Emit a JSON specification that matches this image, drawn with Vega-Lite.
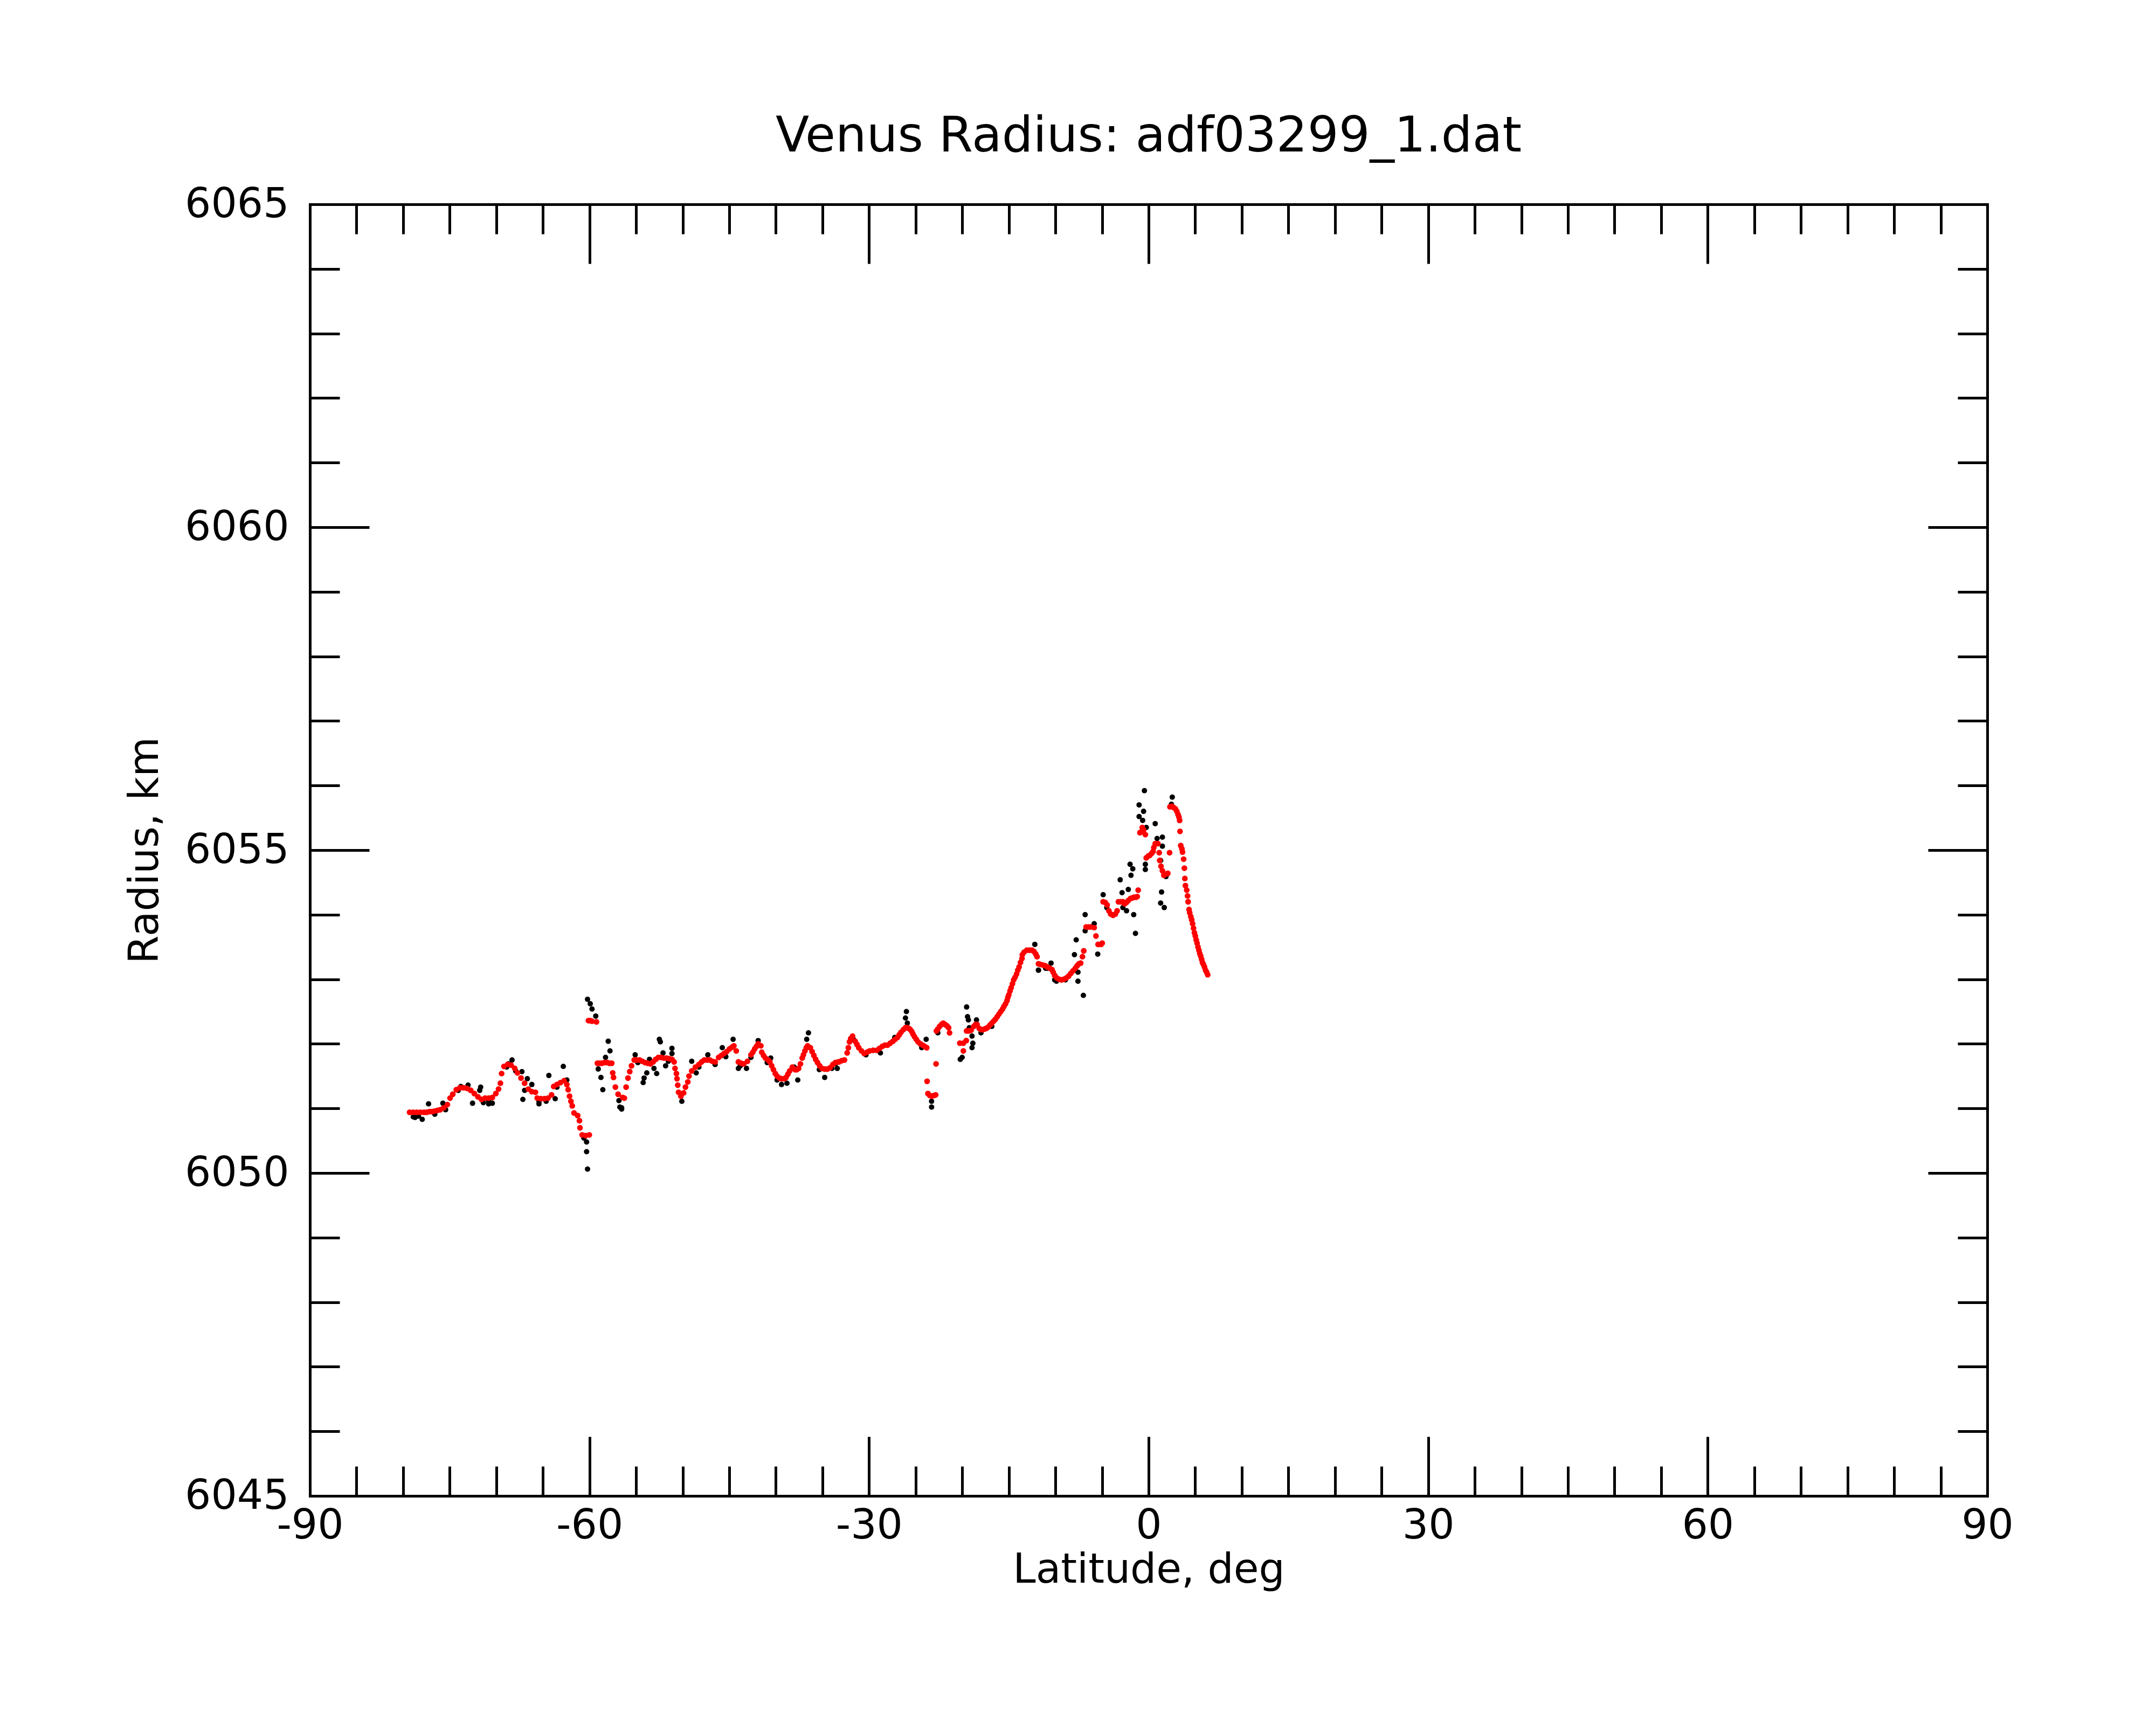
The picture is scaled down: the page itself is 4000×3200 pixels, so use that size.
{
  "$schema": "https://vega.github.io/schema/vega-lite/v6.json",
  "width": 3112,
  "height": 2396,
  "autosize": {"type": "none"},
  "padding": {"left": 575, "top": 379, "right": 313, "bottom": 425},
  "background": "white",
  "config": {"view": {"stroke": null}, "font": "DejaVu Sans"},
  "title": {
    "text": "Venus Radius: adf03299_1.dat",
    "font": "DejaVu Sans",
    "fontSize": 91,
    "fontWeight": "normal",
    "color": "#000000",
    "anchor": "middle",
    "baseline": "alphabetic",
    "offset": -31
  },
  "datasets": {
    "black": [
      {"lat": -78.72, "r": 6050.86}, {"lat": -77.95, "r": 6050.83}, {"lat": -77.27, "r": 6051.07},
      {"lat": -75.73, "r": 6051.08}, {"lat": -75.44, "r": 6050.98}, {"lat": -73.81, "r": 6051.34},
      {"lat": -73.03, "r": 6051.36}, {"lat": -72.55, "r": 6051.08}, {"lat": -71.68, "r": 6051.33},
      {"lat": -71.78, "r": 6051.28}, {"lat": -70.82, "r": 6051.07}, {"lat": -70.43, "r": 6051.08},
      {"lat": -68.70, "r": 6051.69}, {"lat": -68.31, "r": 6051.75}, {"lat": -67.25, "r": 6051.57},
      {"lat": -67.15, "r": 6051.14}, {"lat": -66.67, "r": 6051.46}, {"lat": -66.19, "r": 6051.37},
      {"lat": -66.96, "r": 6051.28}, {"lat": -65.42, "r": 6051.07}, {"lat": -64.36, "r": 6051.51},
      {"lat": -63.68, "r": 6051.15}, {"lat": -62.81, "r": 6051.65}, {"lat": -62.43, "r": 6051.44},
      {"lat": -60.21, "r": 6052.69}, {"lat": -59.92, "r": 6052.62}, {"lat": -59.73, "r": 6052.54},
      {"lat": -59.33, "r": 6052.43}, {"lat": -57.99, "r": 6052.04}, {"lat": -57.80, "r": 6051.89},
      {"lat": -58.28, "r": 6051.79}, {"lat": -59.06, "r": 6051.61}, {"lat": -58.77, "r": 6051.48},
      {"lat": -58.57, "r": 6051.29}, {"lat": -60.31, "r": 6050.48}, {"lat": -60.31, "r": 6050.33},
      {"lat": -60.21, "r": 6050.06}, {"lat": -56.55, "r": 6051.01}, {"lat": -56.84, "r": 6051.12},
      {"lat": -78.91, "r": 6050.87}, {"lat": -78.35, "r": 6050.88}, {"lat": -76.60, "r": 6050.91},
      {"lat": -74.09, "r": 6051.28}, {"lat": -71.39, "r": 6051.09}, {"lat": -70.82, "r": 6051.11},
      {"lat": -68.89, "r": 6051.64}, {"lat": -67.92, "r": 6051.58}, {"lat": -65.42, "r": 6051.11},
      {"lat": -64.65, "r": 6051.11}, {"lat": -63.49, "r": 6051.33}, {"lat": -60.60, "r": 6050.54},
      {"lat": -52.50, "r": 6052.07}, {"lat": -52.40, "r": 6052.03}, {"lat": -51.15, "r": 6051.93},
      {"lat": -51.15, "r": 6051.85}, {"lat": -52.11, "r": 6051.86}, {"lat": -51.83, "r": 6051.66},
      {"lat": -52.79, "r": 6051.54}, {"lat": -53.08, "r": 6051.62}, {"lat": -54.24, "r": 6051.40},
      {"lat": -54.14, "r": 6051.47}, {"lat": -53.85, "r": 6051.55}, {"lat": -53.56, "r": 6051.76},
      {"lat": -55.10, "r": 6051.83}, {"lat": -56.74, "r": 6051.02}, {"lat": -56.55, "r": 6050.99},
      {"lat": -50.09, "r": 6051.11}, {"lat": -49.03, "r": 6051.73}, {"lat": -48.55, "r": 6051.55},
      {"lat": -47.30, "r": 6051.83}, {"lat": -45.75, "r": 6051.94}, {"lat": -45.37, "r": 6051.80},
      {"lat": -44.59, "r": 6052.07}, {"lat": -44.02, "r": 6051.62}, {"lat": -43.15, "r": 6051.62},
      {"lat": -41.90, "r": 6052.05}, {"lat": -40.55, "r": 6051.78}, {"lat": -39.39, "r": 6051.37},
      {"lat": -38.81, "r": 6051.39}, {"lat": -37.65, "r": 6051.44}, {"lat": -36.50, "r": 6052.17},
      {"lat": -36.69, "r": 6052.07}, {"lat": -34.76, "r": 6051.48}, {"lat": -38.04, "r": 6051.64},
      {"lat": -54.81, "r": 6051.71}, {"lat": -51.54, "r": 6051.73}, {"lat": -48.26, "r": 6051.64},
      {"lat": -46.52, "r": 6051.68}, {"lat": -43.82, "r": 6051.66}, {"lat": -42.67, "r": 6051.79},
      {"lat": -40.93, "r": 6051.71}, {"lat": -39.87, "r": 6051.44}, {"lat": -35.34, "r": 6051.60},
      {"lat": -33.99, "r": 6051.62},
      {"lat": -25.99, "r": 6052.50}, {"lat": -26.09, "r": 6052.40}, {"lat": -25.89, "r": 6052.32},
      {"lat": -23.87, "r": 6052.07}, {"lat": -24.35, "r": 6051.94}, {"lat": -23.29, "r": 6051.11},
      {"lat": -23.29, "r": 6051.02}, {"lat": -19.53, "r": 6052.57}, {"lat": -19.43, "r": 6052.42},
      {"lat": -19.34, "r": 6052.37}, {"lat": -18.47, "r": 6052.37}, {"lat": -19.24, "r": 6052.25},
      {"lat": -18.95, "r": 6052.12}, {"lat": -18.86, "r": 6052.01}, {"lat": -18.95, "r": 6051.94},
      {"lat": -20.01, "r": 6051.79}, {"lat": -20.21, "r": 6051.76}, {"lat": -33.61, "r": 6051.69},
      {"lat": -33.41, "r": 6051.62}, {"lat": -30.33, "r": 6051.83}, {"lat": -28.78, "r": 6051.86},
      {"lat": -27.24, "r": 6052.10}, {"lat": -11.82, "r": 6053.14}, {"lat": -10.86, "r": 6053.17},
      {"lat": -10.08, "r": 6052.99}, {"lat": -31.68, "r": 6052.07}, {"lat": -22.62, "r": 6052.17},
      {"lat": -17.99, "r": 6052.17}, {"lat": -16.83, "r": 6052.27},
      {"lat": -12.21, "r": 6053.54}, {"lat": -11.82, "r": 6053.14}, {"lat": -7.77, "r": 6053.61},
      {"lat": -7.96, "r": 6053.38}, {"lat": -7.58, "r": 6052.97}, {"lat": -7.00, "r": 6052.75},
      {"lat": -6.81, "r": 6054.00}, {"lat": -5.84, "r": 6053.86}, {"lat": -5.46, "r": 6053.39},
      {"lat": -4.88, "r": 6054.31}, {"lat": -3.05, "r": 6054.54}, {"lat": -2.85, "r": 6054.34},
      {"lat": -2.18, "r": 6054.39}, {"lat": -2.37, "r": 6054.06}, {"lat": -1.89, "r": 6054.61},
      {"lat": -1.99, "r": 6054.78}, {"lat": -1.70, "r": 6054.71}, {"lat": -1.60, "r": 6054.00},
      {"lat": -1.41, "r": 6053.71}, {"lat": -1.02, "r": 6055.70}, {"lat": -0.54, "r": 6055.60},
      {"lat": -1.02, "r": 6055.52}, {"lat": -0.64, "r": 6055.46}, {"lat": -0.45, "r": 6055.92},
      {"lat": -0.25, "r": 6055.35}, {"lat": -0.35, "r": 6054.78}, {"lat": -0.35, "r": 6054.70},
      {"lat": 0.71, "r": 6055.41}, {"lat": 0.91, "r": 6055.18}, {"lat": 1.48, "r": 6055.20},
      {"lat": 1.48, "r": 6055.06}, {"lat": 1.29, "r": 6054.84}, {"lat": 1.39, "r": 6054.35},
      {"lat": 1.29, "r": 6054.18}, {"lat": 1.68, "r": 6054.11}, {"lat": 2.54, "r": 6055.82},
      {"lat": 2.45, "r": 6055.71}, {"lat": -11.05, "r": 6053.17}, {"lat": -10.47, "r": 6053.25},
      {"lat": -9.89, "r": 6052.97}, {"lat": -8.93, "r": 6052.99}, {"lat": -7.58, "r": 6053.11},
      {"lat": -6.81, "r": 6053.75}, {"lat": -4.49, "r": 6054.11}, {"lat": -2.76, "r": 6054.11},
      {"lat": 1.87, "r": 6054.59}
    ],
    "red": [
      {"lat": -79.30, "r": 6050.94}, {"lat": -78.91, "r": 6050.94}, {"lat": -78.53, "r": 6050.94},
      {"lat": -78.14, "r": 6050.94}, {"lat": -77.76, "r": 6050.94}, {"lat": -77.47, "r": 6050.94},
      {"lat": -77.18, "r": 6050.95}, {"lat": -76.89, "r": 6050.95}, {"lat": -76.60, "r": 6050.96},
      {"lat": -76.31, "r": 6050.97}, {"lat": -76.02, "r": 6050.98}, {"lat": -75.64, "r": 6051.01},
      {"lat": -75.25, "r": 6051.06}, {"lat": -74.96, "r": 6051.16}, {"lat": -74.67, "r": 6051.22},
      {"lat": -74.29, "r": 6051.29}, {"lat": -73.90, "r": 6051.32}, {"lat": -73.52, "r": 6051.32},
      {"lat": -73.13, "r": 6051.31}, {"lat": -72.74, "r": 6051.28}, {"lat": -72.36, "r": 6051.23},
      {"lat": -71.97, "r": 6051.18}, {"lat": -71.59, "r": 6051.14}, {"lat": -71.20, "r": 6051.16},
      {"lat": -70.82, "r": 6051.16}, {"lat": -70.43, "r": 6051.17}, {"lat": -70.05, "r": 6051.23},
      {"lat": -69.76, "r": 6051.30}, {"lat": -69.56, "r": 6051.39}, {"lat": -69.43, "r": 6051.54},
      {"lat": -69.18, "r": 6051.65}, {"lat": -68.79, "r": 6051.68}, {"lat": -68.41, "r": 6051.67},
      {"lat": -68.02, "r": 6051.62}, {"lat": -67.73, "r": 6051.55}, {"lat": -67.35, "r": 6051.47},
      {"lat": -66.96, "r": 6051.39}, {"lat": -66.57, "r": 6051.30}, {"lat": -66.19, "r": 6051.26},
      {"lat": -65.80, "r": 6051.25}, {"lat": -65.61, "r": 6051.16}, {"lat": -65.22, "r": 6051.15},
      {"lat": -64.84, "r": 6051.15}, {"lat": -64.45, "r": 6051.16}, {"lat": -64.07, "r": 6051.21},
      {"lat": -63.84, "r": 6051.34}, {"lat": -63.49, "r": 6051.37}, {"lat": -63.11, "r": 6051.40},
      {"lat": -62.72, "r": 6051.43}, {"lat": -62.43, "r": 6051.37}, {"lat": -62.29, "r": 6051.29},
      {"lat": -62.14, "r": 6051.19}, {"lat": -61.99, "r": 6051.11}, {"lat": -61.85, "r": 6051.04},
      {"lat": -61.66, "r": 6050.93}, {"lat": -61.27, "r": 6050.89}, {"lat": -61.08, "r": 6050.81},
      {"lat": -61.02, "r": 6050.70}, {"lat": -60.79, "r": 6050.59}, {"lat": -60.41, "r": 6050.58},
      {"lat": -60.02, "r": 6050.59}, {"lat": -60.11, "r": 6052.36}, {"lat": -59.92, "r": 6052.36},
      {"lat": -59.73, "r": 6052.35}, {"lat": -59.25, "r": 6052.34}, {"lat": -59.15, "r": 6051.70},
      {"lat": -58.91, "r": 6051.70}, {"lat": -58.67, "r": 6051.70}, {"lat": -58.38, "r": 6051.71},
      {"lat": -58.09, "r": 6051.71}, {"lat": -57.85, "r": 6051.70}, {"lat": -57.61, "r": 6051.70},
      {"lat": -57.51, "r": 6051.55}, {"lat": -57.42, "r": 6051.48}, {"lat": -57.22, "r": 6051.33},
      {"lat": -56.93, "r": 6051.22}, {"lat": -56.45, "r": 6051.17},
      {"lat": -56.26, "r": 6051.16}, {"lat": -56.07, "r": 6051.33}, {"lat": -55.87, "r": 6051.47},
      {"lat": -55.68, "r": 6051.57}, {"lat": -55.49, "r": 6051.66}, {"lat": -55.20, "r": 6051.75},
      {"lat": -54.91, "r": 6051.75}, {"lat": -54.62, "r": 6051.75}, {"lat": -54.33, "r": 6051.73},
      {"lat": -54.04, "r": 6051.71}, {"lat": -53.75, "r": 6051.70}, {"lat": -53.46, "r": 6051.69},
      {"lat": -53.17, "r": 6051.72}, {"lat": -52.89, "r": 6051.76}, {"lat": -52.60, "r": 6051.79},
      {"lat": -52.31, "r": 6051.79}, {"lat": -52.02, "r": 6051.78}, {"lat": -51.73, "r": 6051.78},
      {"lat": -51.44, "r": 6051.77}, {"lat": -51.15, "r": 6051.76}, {"lat": -50.92, "r": 6051.72},
      {"lat": -50.82, "r": 6051.62}, {"lat": -50.67, "r": 6051.54}, {"lat": -50.61, "r": 6051.46},
      {"lat": -50.53, "r": 6051.36}, {"lat": -50.44, "r": 6051.25}, {"lat": -50.19, "r": 6051.19},
      {"lat": -49.90, "r": 6051.24}, {"lat": -49.70, "r": 6051.33}, {"lat": -49.45, "r": 6051.41},
      {"lat": -49.32, "r": 6051.50}, {"lat": -49.03, "r": 6051.58}, {"lat": -48.64, "r": 6051.64},
      {"lat": -48.26, "r": 6051.68}, {"lat": -47.97, "r": 6051.72}, {"lat": -47.68, "r": 6051.75},
      {"lat": -47.39, "r": 6051.75}, {"lat": -47.10, "r": 6051.75}, {"lat": -46.81, "r": 6051.73},
      {"lat": -46.52, "r": 6051.72}, {"lat": -46.14, "r": 6051.79}, {"lat": -45.85, "r": 6051.82},
      {"lat": -45.56, "r": 6051.85}, {"lat": -45.27, "r": 6051.88}, {"lat": -44.98, "r": 6051.92},
      {"lat": -44.69, "r": 6051.95}, {"lat": -44.50, "r": 6051.97}, {"lat": -44.25, "r": 6051.89},
      {"lat": -44.02, "r": 6051.72}, {"lat": -43.73, "r": 6051.70}, {"lat": -43.44, "r": 6051.69},
      {"lat": -43.05, "r": 6051.73}, {"lat": -42.67, "r": 6051.83}, {"lat": -42.47, "r": 6051.87},
      {"lat": -42.28, "r": 6051.92}, {"lat": -42.09, "r": 6051.96}, {"lat": -41.90, "r": 6052.00},
      {"lat": -41.61, "r": 6051.97}, {"lat": -41.51, "r": 6051.87}, {"lat": -41.32, "r": 6051.82},
      {"lat": -41.12, "r": 6051.78}, {"lat": -40.83, "r": 6051.75}, {"lat": -40.64, "r": 6051.72},
      {"lat": -40.45, "r": 6051.66}, {"lat": -40.26, "r": 6051.60}, {"lat": -40.06, "r": 6051.54},
      {"lat": -39.87, "r": 6051.50}, {"lat": -39.62, "r": 6051.47}, {"lat": -39.39, "r": 6051.46},
      {"lat": -39.10, "r": 6051.46}, {"lat": -38.91, "r": 6051.48}, {"lat": -38.71, "r": 6051.53},
      {"lat": -38.52, "r": 6051.58}, {"lat": -38.23, "r": 6051.64}, {"lat": -37.94, "r": 6051.60},
      {"lat": -37.75, "r": 6051.60}, {"lat": -37.56, "r": 6051.62}, {"lat": -37.36, "r": 6051.69},
      {"lat": -37.17, "r": 6051.78}, {"lat": -37.04, "r": 6051.83}, {"lat": -36.88, "r": 6051.89},
      {"lat": -36.73, "r": 6051.94}, {"lat": -36.59, "r": 6051.97}, {"lat": -36.30, "r": 6051.94},
      {"lat": -36.11, "r": 6051.88}, {"lat": -35.92, "r": 6051.82}, {"lat": -35.73, "r": 6051.76},
      {"lat": -35.53, "r": 6051.71}, {"lat": -35.30, "r": 6051.66}, {"lat": -35.05, "r": 6051.62},
      {"lat": -34.76, "r": 6051.61}, {"lat": -34.47, "r": 6051.61}, {"lat": -34.18, "r": 6051.63},
      {"lat": -33.89, "r": 6051.68}, {"lat": -33.61, "r": 6051.71}, {"lat": -33.32, "r": 6051.72},
      {"lat": -33.22, "r": 6051.72}, {"lat": -32.93, "r": 6051.74}, {"lat": -32.64, "r": 6051.75},
      {"lat": -32.35, "r": 6051.86}, {"lat": -32.22, "r": 6051.94}, {"lat": -32.10, "r": 6052.03},
      {"lat": -31.97, "r": 6052.08}, {"lat": -31.77, "r": 6052.12}, {"lat": -31.49, "r": 6052.04},
      {"lat": -31.29, "r": 6051.99}, {"lat": -31.10, "r": 6051.94}, {"lat": -30.81, "r": 6051.89},
      {"lat": -30.52, "r": 6051.85}, {"lat": -30.23, "r": 6051.87}, {"lat": -29.94, "r": 6051.89},
      {"lat": -29.56, "r": 6051.90}, {"lat": -29.17, "r": 6051.90}, {"lat": -28.88, "r": 6051.93},
      {"lat": -28.59, "r": 6051.96}, {"lat": -28.30, "r": 6051.98}, {"lat": -28.01, "r": 6051.98},
      {"lat": -27.73, "r": 6052.01}, {"lat": -27.44, "r": 6052.04}, {"lat": -27.20, "r": 6052.07},
      {"lat": -26.95, "r": 6052.10}, {"lat": -26.76, "r": 6052.14}, {"lat": -26.57, "r": 6052.18},
      {"lat": -26.32, "r": 6052.22}, {"lat": -26.09, "r": 6052.25}, {"lat": -25.89, "r": 6052.25},
      {"lat": -25.74, "r": 6052.24}, {"lat": -25.57, "r": 6052.22}, {"lat": -25.41, "r": 6052.19},
      {"lat": -25.28, "r": 6052.15}, {"lat": -25.12, "r": 6052.11}, {"lat": -24.93, "r": 6052.07},
      {"lat": -24.74, "r": 6052.03}, {"lat": -24.49, "r": 6052.00}, {"lat": -24.25, "r": 6051.98},
      {"lat": -24.02, "r": 6051.96}, {"lat": -23.81, "r": 6051.94},
      {"lat": -22.81, "r": 6051.69}, {"lat": -23.77, "r": 6051.42}, {"lat": -23.68, "r": 6051.23},
      {"lat": -23.48, "r": 6051.20}, {"lat": -23.29, "r": 6051.19}, {"lat": -23.04, "r": 6051.20},
      {"lat": -22.85, "r": 6051.21},
      {"lat": -22.77, "r": 6052.20}, {"lat": -22.62, "r": 6052.23}, {"lat": -22.42, "r": 6052.27},
      {"lat": -22.23, "r": 6052.30}, {"lat": -22.04, "r": 6052.32}, {"lat": -21.84, "r": 6052.30},
      {"lat": -21.65, "r": 6052.28}, {"lat": -21.46, "r": 6052.25}, {"lat": -21.36, "r": 6052.17},
      {"lat": -20.26, "r": 6052.01}, {"lat": -19.88, "r": 6052.01}, {"lat": -19.57, "r": 6052.05},
      {"lat": -19.88, "r": 6051.89}, {"lat": -19.53, "r": 6052.20}, {"lat": -19.30, "r": 6052.20},
      {"lat": -19.05, "r": 6052.21}, {"lat": -18.76, "r": 6052.27}, {"lat": -18.57, "r": 6052.30},
      {"lat": -18.41, "r": 6052.30}, {"lat": -18.18, "r": 6052.24}, {"lat": -17.99, "r": 6052.22},
      {"lat": -17.80, "r": 6052.22}, {"lat": -17.60, "r": 6052.23}, {"lat": -17.41, "r": 6052.24},
      {"lat": -17.22, "r": 6052.26}, {"lat": -17.02, "r": 6052.29}, {"lat": -16.83, "r": 6052.32},
      {"lat": -16.64, "r": 6052.35}, {"lat": -16.45, "r": 6052.38}, {"lat": -16.25, "r": 6052.42},
      {"lat": -16.06, "r": 6052.46}, {"lat": -15.87, "r": 6052.50}, {"lat": -15.67, "r": 6052.54},
      {"lat": -15.52, "r": 6052.58}, {"lat": -15.35, "r": 6052.62}, {"lat": -15.19, "r": 6052.67},
      {"lat": -15.10, "r": 6052.72}, {"lat": -15.00, "r": 6052.76}, {"lat": -14.87, "r": 6052.82},
      {"lat": -14.75, "r": 6052.87}, {"lat": -14.61, "r": 6052.93}, {"lat": -14.48, "r": 6052.99},
      {"lat": -14.33, "r": 6053.03}, {"lat": -14.17, "r": 6053.08}, {"lat": -14.04, "r": 6053.14},
      {"lat": -13.90, "r": 6053.19}, {"lat": -13.75, "r": 6053.26}, {"lat": -13.59, "r": 6053.32},
      {"lat": -13.55, "r": 6053.38}, {"lat": -13.36, "r": 6053.42}, {"lat": -13.07, "r": 6053.45},
      {"lat": -12.78, "r": 6053.45}, {"lat": -12.50, "r": 6053.45}, {"lat": -12.30, "r": 6053.43},
      {"lat": -12.11, "r": 6053.39}, {"lat": -11.97, "r": 6053.35}, {"lat": -11.82, "r": 6053.24},
      {"lat": -11.59, "r": 6053.23}, {"lat": -11.34, "r": 6053.22}, {"lat": -11.09, "r": 6053.21},
      {"lat": -10.86, "r": 6053.19}, {"lat": -10.61, "r": 6053.17}, {"lat": -10.37, "r": 6053.15},
      {"lat": -10.24, "r": 6053.11}, {"lat": -10.08, "r": 6053.06}, {"lat": -9.85, "r": 6053.02},
      {"lat": -9.60, "r": 6053.00}, {"lat": -9.35, "r": 6052.99}, {"lat": -9.12, "r": 6053.00},
      {"lat": -8.83, "r": 6053.02}, {"lat": -8.58, "r": 6053.05}, {"lat": -8.35, "r": 6053.09},
      {"lat": -8.12, "r": 6053.13}, {"lat": -7.87, "r": 6053.17}, {"lat": -7.67, "r": 6053.21},
      {"lat": -7.48, "r": 6053.24}, {"lat": -7.29, "r": 6053.25}, {"lat": -7.10, "r": 6053.35},
      {"lat": -6.96, "r": 6053.44}, {"lat": -6.71, "r": 6053.81}, {"lat": -6.46, "r": 6053.81},
      {"lat": -6.23, "r": 6053.81}, {"lat": -5.84, "r": 6053.80}, {"lat": -5.65, "r": 6053.67},
      {"lat": -5.42, "r": 6053.54}, {"lat": -5.11, "r": 6053.54}, {"lat": -4.98, "r": 6053.56},
      {"lat": -4.88, "r": 6054.20}, {"lat": -4.65, "r": 6054.19}, {"lat": -4.45, "r": 6054.15},
      {"lat": -4.26, "r": 6054.06}, {"lat": -4.07, "r": 6054.01}, {"lat": -3.82, "r": 6053.99},
      {"lat": -3.57, "r": 6054.01}, {"lat": -3.38, "r": 6054.06}, {"lat": -3.24, "r": 6054.20},
      {"lat": -2.99, "r": 6054.20}, {"lat": -2.76, "r": 6054.20}, {"lat": -2.57, "r": 6054.17},
      {"lat": -2.37, "r": 6054.19}, {"lat": -2.18, "r": 6054.22}, {"lat": -1.95, "r": 6054.25},
      {"lat": -1.76, "r": 6054.26}, {"lat": -1.56, "r": 6054.27}, {"lat": -1.37, "r": 6054.27},
      {"lat": -1.22, "r": 6054.28}, {"lat": -1.12, "r": 6054.38}, {"lat": -0.93, "r": 6055.27},
      {"lat": -0.73, "r": 6055.29}, {"lat": -0.54, "r": 6055.31}, {"lat": -0.35, "r": 6055.24},
      {"lat": -0.68, "r": 6055.35}, {"lat": -0.25, "r": 6054.88}, {"lat": -0.02, "r": 6054.91},
      {"lat": 0.13, "r": 6054.92}, {"lat": 0.33, "r": 6054.95}, {"lat": 0.48, "r": 6054.98},
      {"lat": 0.56, "r": 6055.04}, {"lat": 0.71, "r": 6055.10}, {"lat": 1.00, "r": 6055.10},
      {"lat": 1.14, "r": 6054.96}, {"lat": 1.19, "r": 6054.84}, {"lat": 1.33, "r": 6054.75},
      {"lat": 1.48, "r": 6054.68}, {"lat": 1.64, "r": 6054.61}, {"lat": 1.87, "r": 6054.63},
      {"lat": 2.06, "r": 6054.64}, {"lat": 2.25, "r": 6054.96}, {"lat": 2.29, "r": 6055.67},
      {"lat": 2.49, "r": 6055.68}, {"lat": 2.68, "r": 6055.66}, {"lat": 2.87, "r": 6055.64},
      {"lat": 3.03, "r": 6055.60}, {"lat": 3.16, "r": 6055.55}, {"lat": 3.26, "r": 6055.51},
      {"lat": 3.33, "r": 6055.46}, {"lat": 3.37, "r": 6055.29}, {"lat": 3.45, "r": 6055.07},
      {"lat": 3.57, "r": 6055.02}, {"lat": 3.64, "r": 6054.97}, {"lat": 3.76, "r": 6054.86},
      {"lat": 3.84, "r": 6054.72}, {"lat": 3.89, "r": 6054.56}, {"lat": 3.95, "r": 6054.45},
      {"lat": 4.09, "r": 6054.38}, {"lat": 4.18, "r": 6054.29}, {"lat": 4.24, "r": 6054.20},
      {"lat": 4.34, "r": 6054.08}, {"lat": 4.41, "r": 6054.03}, {"lat": 4.53, "r": 6053.97},
      {"lat": 4.63, "r": 6053.92}, {"lat": 4.72, "r": 6053.86}, {"lat": 4.82, "r": 6053.79},
      {"lat": 4.92, "r": 6053.72}, {"lat": 5.01, "r": 6053.67}, {"lat": 5.11, "r": 6053.61},
      {"lat": 5.20, "r": 6053.56}, {"lat": 5.30, "r": 6053.50}, {"lat": 5.40, "r": 6053.45},
      {"lat": 5.49, "r": 6053.40}, {"lat": 5.59, "r": 6053.36}, {"lat": 5.69, "r": 6053.31},
      {"lat": 5.78, "r": 6053.26}, {"lat": 5.88, "r": 6053.23}, {"lat": 6.00, "r": 6053.19},
      {"lat": 6.11, "r": 6053.14}, {"lat": 6.23, "r": 6053.11}, {"lat": 6.34, "r": 6053.07}
    ]
  },
  "layer": [
    {
      "data": {"name": "black"},
      "mark": {"type": "circle", "color": "#000000", "size": 100, "opacity": 1, "strokeWidth": 0},
      "encoding": {
        "x": {
          "field": "lat",
          "type": "quantitative",
          "scale": {"domain": [-90, 90], "nice": false, "zero": false},
          "axis": {
            "orient": "bottom",
            "values": [-90, -85, -80, -75, -70, -65, -60, -55, -50, -45, -40, -35, -30, -25, -20, -15, -10, -5, 0, 5, 10, 15, 20, 25, 30, 35, 40, 45, 50, 55, 60, 65, 70, 75, 80, 85, 90],
            "labelExpr": "datum.value % 30 === 0 ? '' + datum.value : ''",
            "grid": false,
            "domainColor": "#000000",
            "domainWidth": 5,
            "domainCap": "square",
            "tickColor": "#000000",
            "tickWidth": 5,
            "tickSize": {"condition": {"test": "datum.value % 30 === 0", "value": -110}, "value": -55},
            "labelFont": "DejaVu Sans",
            "labelFontSize": 76,
            "labelColor": "#000000",
            "labelPadding": 128,
            "labelLimit": 0,
            "labelFlush": false,
            "labelOverlap": false,
            "labelBound": false,
            "title": "Latitude, deg",
            "titleFont": "DejaVu Sans",
            "titleFontSize": 76,
            "titleFontWeight": "normal",
            "titleColor": "#000000",
            "titleBaseline": "alphabetic",
            "titleX": 1556,
            "titleY": 160
          }
        },
        "y": {
          "field": "r",
          "type": "quantitative",
          "scale": {"domain": [6045, 6065], "nice": false, "zero": false},
          "axis": {
            "orient": "left",
            "values": [6045, 6046, 6047, 6048, 6049, 6050, 6051, 6052, 6053, 6054, 6055, 6056, 6057, 6058, 6059, 6060, 6061, 6062, 6063, 6064, 6065],
            "labelExpr": "datum.value % 5 === 0 ? '' + datum.value : ''",
            "grid": false,
            "domainColor": "#000000",
            "domainWidth": 5,
            "domainCap": "square",
            "tickColor": "#000000",
            "tickWidth": 5,
            "tickSize": {"condition": {"test": "datum.value % 5 === 0", "value": -110}, "value": -55},
            "labelFont": "DejaVu Sans",
            "labelFontSize": 76,
            "labelColor": "#000000",
            "labelPadding": 149,
            "labelLimit": 0,
            "labelFlush": false,
            "labelOverlap": false,
            "labelBound": false,
            "title": "Radius, km",
            "titleFont": "DejaVu Sans",
            "titleFontSize": 76,
            "titleFontWeight": "normal",
            "titleColor": "#000000",
            "titleBaseline": "alphabetic",
            "titleAngle": 270,
            "titleX": -283,
            "titleY": 1198
          }
        }
      }
    },
    {
      "data": {"name": "red"},
      "mark": {"type": "circle", "color": "#ff0000", "size": 115, "opacity": 1, "strokeWidth": 0},
      "encoding": {
        "x": {
          "field": "lat",
          "type": "quantitative",
          "scale": {"domain": [-90, 90], "nice": false, "zero": false},
          "axis": {
            "orient": "top",
            "values": [-90, -85, -80, -75, -70, -65, -60, -55, -50, -45, -40, -35, -30, -25, -20, -15, -10, -5, 0, 5, 10, 15, 20, 25, 30, 35, 40, 45, 50, 55, 60, 65, 70, 75, 80, 85, 90],
            "labels": false,
            "grid": false,
            "domainColor": "#000000",
            "domainWidth": 5,
            "domainCap": "square",
            "tickColor": "#000000",
            "tickWidth": 5,
            "tickSize": {"condition": {"test": "datum.value % 30 === 0", "value": -110}, "value": -55},
            "title": null
          }
        },
        "y": {
          "field": "r",
          "type": "quantitative",
          "scale": {"domain": [6045, 6065], "nice": false, "zero": false},
          "axis": {
            "orient": "right",
            "values": [6045, 6046, 6047, 6048, 6049, 6050, 6051, 6052, 6053, 6054, 6055, 6056, 6057, 6058, 6059, 6060, 6061, 6062, 6063, 6064, 6065],
            "labels": false,
            "grid": false,
            "domainColor": "#000000",
            "domainWidth": 5,
            "domainCap": "square",
            "tickColor": "#000000",
            "tickWidth": 5,
            "tickSize": {"condition": {"test": "datum.value % 5 === 0", "value": -110}, "value": -55},
            "title": null
          }
        }
      }
    }
  ],
  "resolve": {"axis": {"x": "independent", "y": "independent"}}
}
